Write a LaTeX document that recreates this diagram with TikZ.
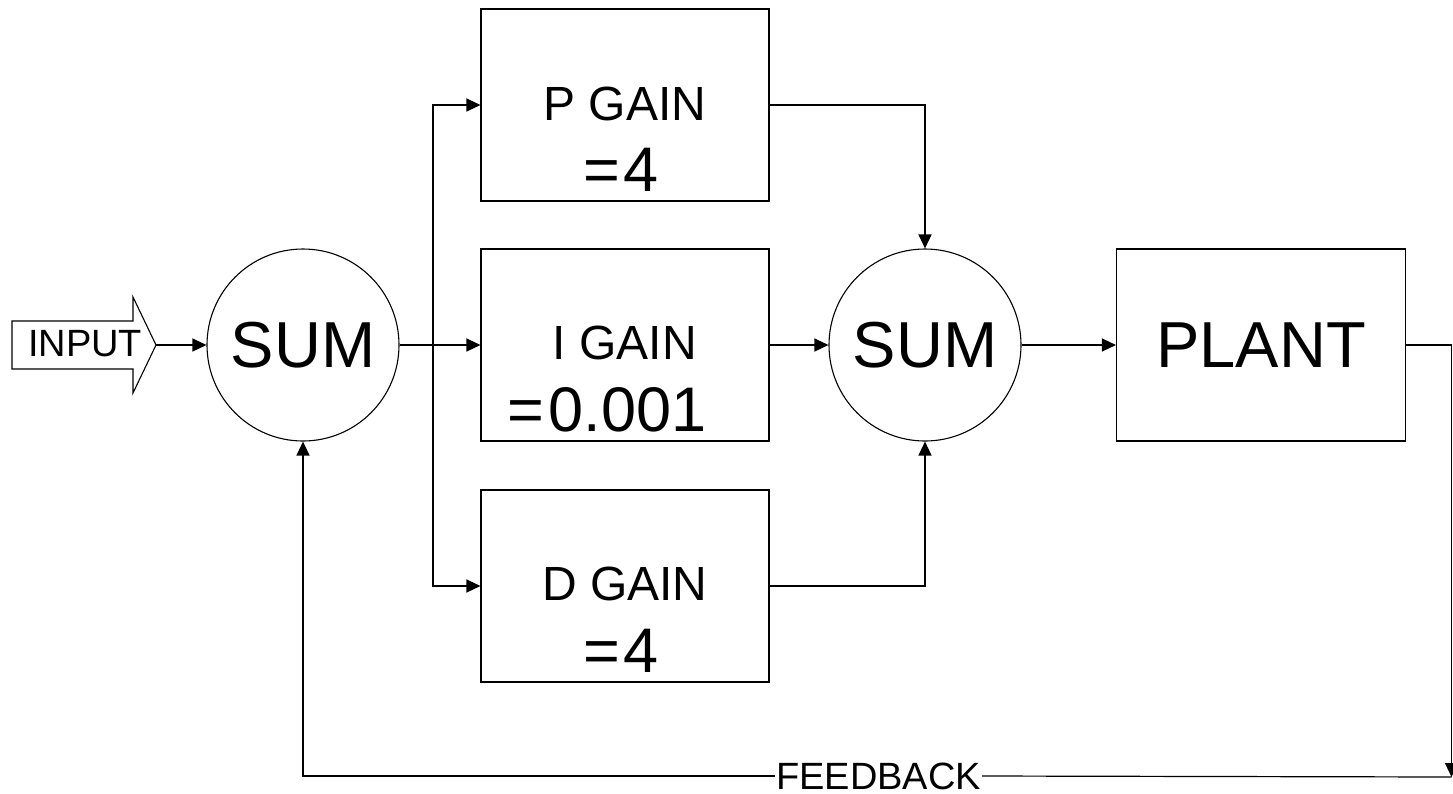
\documentclass[tikz,border=0pt]{standalone}
\usepackage{fontspec}
\setmainfont{Liberation Sans}
\usetikzlibrary{arrows.meta}

\tikzset{
  wire/.style={line width=1.2pt, draw=black},
  arr/.style={wire, -{Triangle[length=14pt,width=13pt]}},
  sumnode/.style={circle, draw, line width=1.1pt, minimum size=192pt, inner sep=0pt,
    font=\fontsize{65}{65}\selectfont},
  gainbox/.style={rectangle, draw, line width=1.1pt, minimum width=288pt, minimum height=192pt, inner sep=0pt},
  plantbox/.style={rectangle, draw, line width=1.1pt, minimum width=289pt, minimum height=192pt, inner sep=0pt,
    font=\fontsize{65}{65}\selectfont},
  gainname/.style={anchor=base, inner sep=0pt, font=\fontsize{48}{48}\selectfont},
  gainval/.style={anchor=base, inner sep=0pt, font=\fontsize{63}{63}\selectfont},
  smalllbl/.style={inner sep=1pt, fill=white, font=\fontsize{38}{38}\selectfont}
}

\begin{document}
\begin{tikzpicture}[x=1pt, y=-1pt]
\useasboundingbox (0,0) rectangle (1453,793);

% input block arrow
\draw[line width=1.1pt] (12,321) -- (133,321) -- (133,297) -- (156,345) -- (133,393)
  -- (133,369) -- (12,369) -- cycle;
\node[inner sep=0pt, font=\fontsize{38}{38}\selectfont] (inlabel) at (85,343.5) {INPUT};
\coordinate (intip) at (156,345);

% summing junctions and plant
\node[sumnode] (sumA) at (303,345) {SUM};
\node[sumnode] (sumB) at (925,345) {SUM};
\node[plantbox] (plant) at (1261,345) {PLANT};

% gain blocks
\node[gainbox] (gP) at (625,105) {};
\node[gainbox] (gI) at (625,345) {};
\node[gainbox] (gD) at (625,586) {};

\node[gainname] (tP) at (625,120) {P GAIN};
\node[gainval] (vP) at (621,191) {=\kern4pt4};
\node[gainname] (tI) at (625,359) {I GAIN};
\node[gainval] (vI) at (607,431) {=\kern4pt0.001};
\node[gainname] (tD) at (625,600) {D GAIN};
\node[gainval] (vD) at (621,672) {=\kern4pt4};

% forward path
\draw[arr] (intip) -- (sumA.west);
\draw[arr] (sumA.east) -- (gI.west);
\coordinate (split) at (433,345);
\draw[arr] (split) |- (gP.west);
\draw[arr] (split) |- (gD.west);
\draw[arr] (gP.east) -| (sumB.north);
\draw[arr] (gI.east) -- (sumB.west);
\draw[arr] (gD.east) -| (sumB.south);
\draw[arr] (sumB.east) -- (plant.west);

% feedback path
\coordinate (fbcorner) at (1451.5,777);
\draw[arr] (plant.east) -| (fbcorner);
\node[smalllbl] (fb) at (878.5,776) {FEEDBACK};
\draw[wire] (fbcorner) -- (fb.east);
\draw[arr] (fb.west) -| (sumA.south);
\end{tikzpicture}
\end{document}
